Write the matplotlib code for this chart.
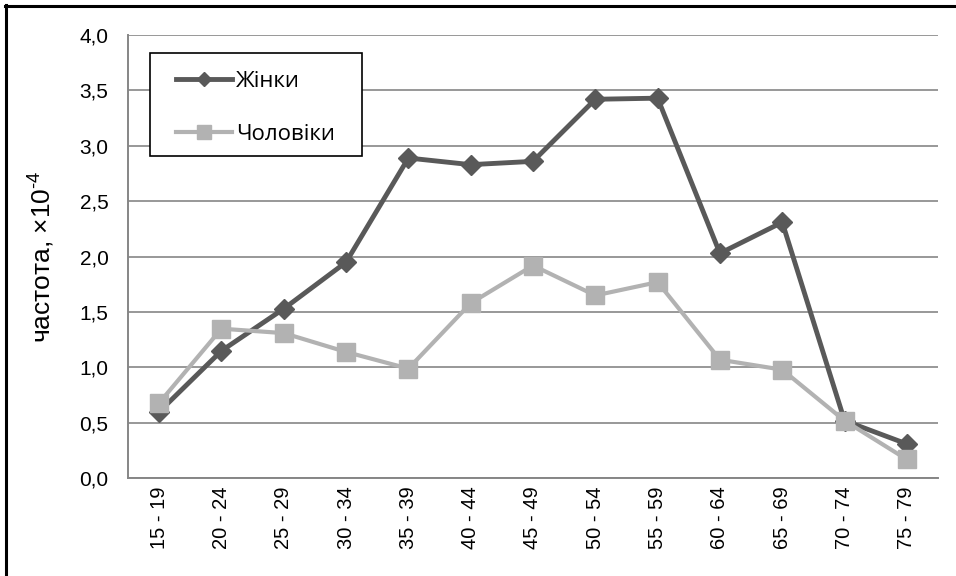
import matplotlib
matplotlib.use('Agg')
import matplotlib.pyplot as plt
from matplotlib.lines import Line2D
from matplotlib.patches import Rectangle
from matplotlib.ticker import FuncFormatter, MultipleLocator

# age groups and rates (x10^-4)
age_groups = ['15 - 19', '20 - 24', '25 - 29', '30 - 34', '35 - 39', '40 - 44',
              '45 - 49', '50 - 54', '55 - 59', '60 - 64', '65 - 69', '70 - 74',
              '75 - 79']
women = [0.60, 1.15, 1.53, 1.95, 2.89, 2.83, 2.86, 3.42, 3.43, 2.03, 2.31, 0.52, 0.31]
men = [0.68, 1.35, 1.31, 1.14, 0.99, 1.58, 1.92, 1.65, 1.77, 1.07, 0.98, 0.52, 0.17]

series_names = ['Жінки', 'Чоловіки']
dark = '#595959'
light = '#b2b2b2'
grid_col = '#868686'

plt.rcParams['font.family'] = ['Liberation Sans', 'DejaVu Sans']
plt.rcParams['mathtext.fontset'] = 'custom'
plt.rcParams['mathtext.rm'] = 'Liberation Sans'
plt.rcParams['mathtext.it'] = 'Liberation Sans'

W, H = 956, 576
fig = plt.figure(figsize=(W / 100, H / 100), dpi=100)
ax = fig.add_axes([128 / W, 1 - 478.3 / H, 810 / W, 443.3 / H])

x = list(range(len(age_groups)))
ax.plot(x, women, color=dark, lw=3.5, marker='D', ms=10, mfc=dark, mec=dark,
        zorder=3, solid_joinstyle='round')
ax.plot(x, men, color=light, lw=3.0, marker='s', ms=13, mfc=light, mec=light,
        zorder=4, solid_joinstyle='round')

ax.set_xlim(-0.5, len(age_groups) - 0.5)
ax.set_ylim(0, 4.0)
ax.yaxis.set_major_locator(MultipleLocator(0.5))
ax.yaxis.set_major_formatter(FuncFormatter(lambda v, _: f'{v:.1f}'.replace('.', ',')))
ax.set_xticks(x)
ax.set_xticklabels(age_groups, rotation=90, fontsize=14.5)
ax.tick_params(axis='y', length=0, pad=14, labelsize=15)
ax.tick_params(axis='x', length=0, pad=6)

ax.grid(axis='y', color=grid_col, lw=1.2)
ax.set_axisbelow(True)
for side in ['top', 'right']:
    ax.spines[side].set_visible(False)
for side in ['left', 'bottom']:
    ax.spines[side].set_color(grid_col)
    ax.spines[side].set_linewidth(1.4)

ax.set_ylabel(r'частота, ×10$^{\text{-}4}$', fontsize=19)
ax.yaxis.set_label_coords(-0.088, 0.5)

# legend box
box = Rectangle((150 / W, 1 - 156 / H), 212 / W, 103 / H, transform=fig.transFigure,
                facecolor='white', edgecolor='black', lw=1.2, zorder=5)
fig.add_artist(box)
handles = [Line2D([], [], color=dark, lw=3.5, marker='D', ms=7, mfc=dark, mec=dark),
           Line2D([], [], color=light, lw=3.0, marker='s', ms=10, mfc=light, mec=light)]
leg = fig.legend(handles, series_names, loc='upper left',
                 bbox_to_anchor=(176 / W, 1 - 71 / H), bbox_transform=fig.transFigure,
                 frameon=False, borderpad=0, borderaxespad=0, handlelength=2.5,
                 handletextpad=0.2, labelspacing=1.45,
                 prop={'family': 'Open Sans', 'size': 16})
leg.set_zorder(6)

# frame lines along top and left edges
fig.add_artist(Line2D([5 / W, 1], [1 - 6 / H, 1 - 6 / H], color='black', lw=2.2,
                      transform=fig.transFigure))
fig.add_artist(Line2D([6 / W, 6 / W], [0, 1 - 5 / H], color='black', lw=2.2,
                      transform=fig.transFigure))

fig.savefig('out.png', dpi=100)
